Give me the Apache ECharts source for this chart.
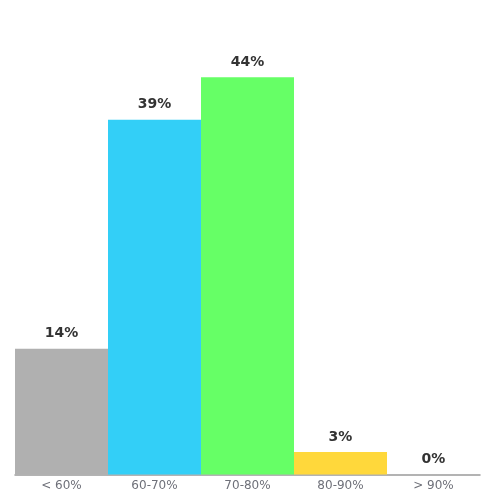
<!DOCTYPE html>
<html>
<head>
<meta charset="utf-8">
<script src="https://cdn.jsdelivr.net/npm/echarts@6/dist/echarts.min.js"></script>
<style>
  html, body { margin: 0; padding: 0; background: #fff; }
  #main { width: 500px; height: 500px; }
</style>
</head>
<body>
<div id="main"></div>
<script>
var categories = ['< 60%', '60-70%', '70-80%', '80-90%', '> 90%'];
var shares = [13.9, 39.2, 43.9, 2.5, 0];
var barColors = ['#b0b0b0', '#33cff7', '#66ff66', '#ffd83b', '#cccccc'];

var myChart = echarts.init(document.getElementById('main'));

var option = {
    backgroundColor: '#ffffff',
    animation: false,
    grid: {
        left: 15,
        right: 20,
        top: 22,
        bottom: 25.5,
        containLabel: false
    },
    xAxis: {
        type: 'category',
        data: categories,
        axisTick: { show: false },
        axisLine: {
            lineStyle: { color: '#9a9a9a', width: 1.5 }
        },
        axisLabel: {
            fontSize: 12,
            color: '#6e7079',
            margin: 5,
            fontFamily: 'DejaVu Sans'
        }
    },
    yAxis: {
        type: 'value',
        min: 0,
        max: 50,
        show: false,
        splitLine: { show: false }
    },
    series: [{
        type: 'bar',
        barCategoryGap: 0,
        data: shares.map(function (v, i) {
            return { value: v, itemStyle: { color: barColors[i] } };
        }),
        label: {
            show: true,
            position: 'top',
            distance: 8,
            fontSize: 14,
            fontWeight: 'bold',
            color: '#333333',
            fontFamily: 'DejaVu Sans',
            formatter: function (p) {
                return Math.round(p.value) + '%';
            }
        }
    }]
};
myChart.setOption(option);
</script>
</body>
</html>
